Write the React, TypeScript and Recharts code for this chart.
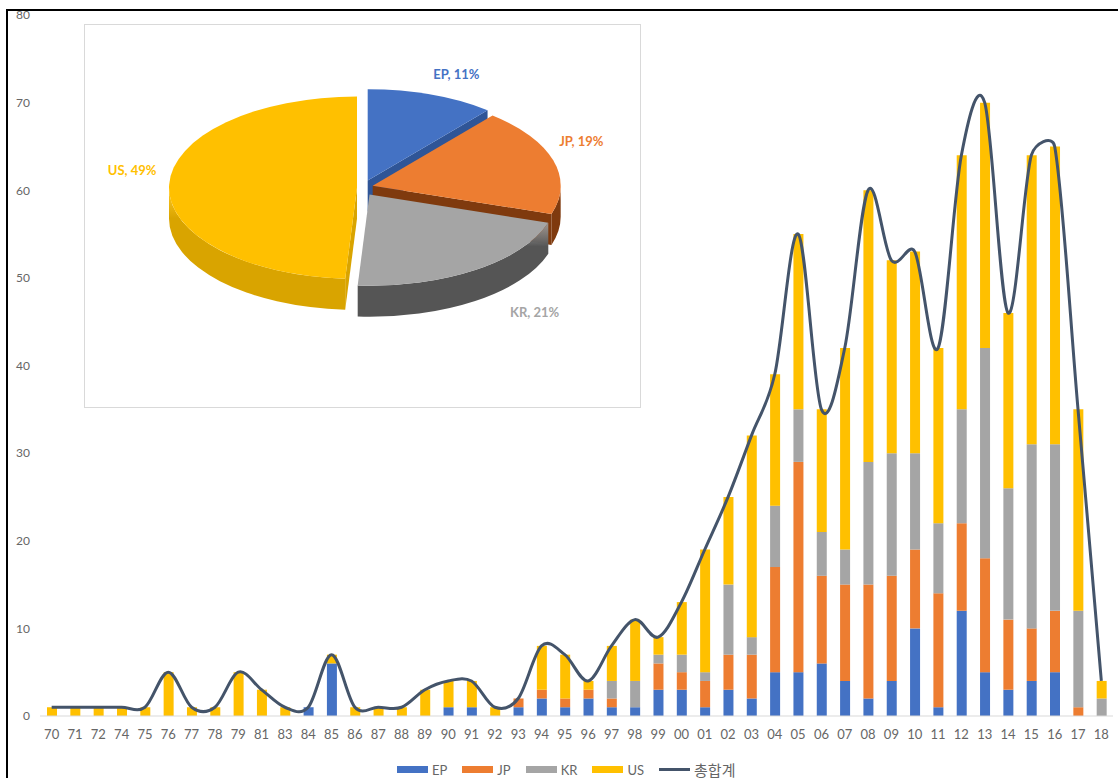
import { ComposedChart, Bar, Line, XAxis, YAxis, PieChart, Pie, Cell } from 'recharts';

// ---- data ----
const years = [
  '70', '71', '72', '74', '75', '76', '77', '78', '79', '81', '83', '84', '85', '86', '87', '88',
  '89', '90', '91', '92', '93', '94', '95', '96', '97', '98', '99', '00', '01', '02', '03', '04',
  '05', '06', '07', '08', '09', '10', '11', '12', '13', '14', '15', '16', '17', '18',
];
const ep = [
  0, 0, 0, 0, 0, 0, 0, 0, 0, 0, 0, 1, 6, 0, 0, 0,
  0, 1, 1, 0, 1, 2, 1, 2, 1, 1, 3, 3, 1, 3, 2, 5,
  5, 6, 4, 2, 4, 10, 1, 12, 5, 3, 4, 5, 0, 0,
];
const jp = [
  0, 0, 0, 0, 0, 0, 0, 0, 0, 0, 0, 0, 0, 0, 0, 0,
  0, 0, 0, 0, 1, 1, 1, 1, 1, 0, 3, 2, 3, 4, 5, 12,
  24, 10, 11, 13, 12, 9, 13, 10, 13, 8, 6, 7, 1, 0,
];
const kr = [
  0, 0, 0, 0, 0, 0, 0, 0, 0, 0, 0, 0, 0, 0, 0, 0,
  0, 0, 0, 0, 0, 0, 0, 0, 2, 3, 1, 2, 1, 8, 2, 7,
  6, 5, 4, 14, 14, 11, 8, 13, 24, 15, 21, 19, 11, 2,
];
const us = [
  1, 1, 1, 1, 1, 5, 1, 1, 5, 3, 1, 0, 1, 1, 1, 1,
  3, 3, 3, 1, 0, 5, 5, 1, 4, 7, 2, 6, 14, 10, 23, 15,
  20, 14, 23, 31, 22, 23, 20, 29, 28, 20, 33, 34, 23, 2,
];
const yTicks = [0, 10, 20, 30, 40, 50, 60, 70, 80];

const pieNames = ['EP', 'JP', 'KR', 'US'];
const pieShares = [11, 19, 21, 49];

// ---- styles ----
const COLORS: Record<string, string> = {
  EP: '#4472C4',
  JP: '#ED7D31',
  KR: '#A5A5A5',
  US: '#FFC000',
};
const WALL: Record<string, string> = {
  EP: '#2F5597',
  JP: '#7F3A0E',
  KR: '#555555',
  US: '#D9A400',
};
const LINE_COLOR = '#44546A';
const TEXT_GRAY = '#666666';
const FONT = "Lato, 'Noto Sans CJK KR', 'Noto Sans', sans-serif";

// nudges for the pie's "best fit" labels
const LABEL_NUDGE: Record<string, [number, number]> = {
  EP: [9, 1],
  JP: [-17, -13],
  KR: [33, -8],
  US: [10, -14],
};

const rows = years.map((year, i) => ({
  year,
  EP: ep[i],
  JP: jp[i],
  KR: kr[i],
  US: us[i],
  total: ep[i] + jp[i] + kr[i] + us[i],
}));

const pieRows = pieNames.map((name, i) => ({ name, value: pieShares[i] }));

// Catmull-Rom style smoothing with handles capped at half the segment,
// which is close to Excel's "smoothed line"
const excelSmooth: any = (context: any) => {
  let xs: number[] = [];
  let ys: number[] = [];
  const cap = (hx: number, hy: number, seg: number) => {
    const len = Math.hypot(hx, hy);
    const max = seg / 2;
    return len > max && len > 0 ? [(hx * max) / len, (hy * max) / len] : [hx, hy];
  };
  return {
    areaStart() {},
    areaEnd() {},
    lineStart() {
      xs = [];
      ys = [];
    },
    point(x: number, y: number) {
      xs.push(+x);
      ys.push(+y);
    },
    lineEnd() {
      const n = xs.length;
      if (n === 0) return;
      context.moveTo(xs[0], ys[0]);
      for (let i = 0; i < n - 1; i++) {
        const p = i > 0 ? i - 1 : i;
        const q = i + 2 < n ? i + 2 : i + 1;
        const seg = Math.hypot(xs[i + 1] - xs[i], ys[i + 1] - ys[i]);
        const [ax, ay] = cap((xs[i + 1] - xs[p]) / 6, (ys[i + 1] - ys[p]) / 6, seg);
        const [bx, by] = cap((xs[q] - xs[i]) / 6, (ys[q] - ys[i]) / 6, seg);
        context.bezierCurveTo(xs[i] + ax, ys[i] + ay, xs[i + 1] - bx, ys[i + 1] - by, xs[i + 1], ys[i + 1]);
      }
    },
  };
};

// ---- 3D-ish exploded pie, drawn from the Pie's own sector angles ----
const RAD = Math.PI / 180;
const FLAT = 0.485;
const DEPTH = 31;
const EXPLODE = 8;

const renderSlice = (props: any) => {
  const { cx, cy, outerRadius, startAngle, endAngle, midAngle, percent, index } = props;
  const name = props.name ?? props.payload?.name ?? pieNames[index];
  const s = Math.max(startAngle, endAngle);
  const e = Math.min(startAngle, endAngle);
  const m = midAngle * RAD;
  const ox = cx + EXPLODE * Math.cos(m);
  const oy = cy - EXPLODE * Math.sin(m);
  const rx = outerRadius;
  const ry = outerRadius * FLAT;
  const pt = (a: number, dy = 0) => [ox + rx * Math.cos(a * RAD), oy - ry * Math.sin(a * RAD) + dy];
  const f = (p: number[]) => `${p[0].toFixed(2)},${p[1].toFixed(2)}`;

  const large = s - e > 180 ? 1 : 0;
  const top = `M${ox},${oy} L${f(pt(s))} A${rx},${ry} 0 ${large} 1 ${f(pt(e))} Z`;

  // front wall
  const a1 = Math.min(s, 0);
  const a2 = Math.max(e, -180);
  let wall = '';
  if (a1 > a2) {
    const lg = a1 - a2 > 180 ? 1 : 0;
    wall = `M${f(pt(a1))} A${rx},${ry} 0 ${lg} 1 ${f(pt(a2))} L${f(pt(a2, DEPTH))} A${rx},${ry} 0 ${lg} 0 ${f(pt(a1, DEPTH))} Z`;
  }
  // radial cut faces facing the viewer
  const faces: string[] = [];
  const face = (a: number) => {
    const p = pt(a);
    const pd = pt(a, DEPTH);
    return `M${ox},${oy} L${f(p)} L${f(pd)} L${ox},${oy + DEPTH} Z`;
  };
  if (Math.cos(e * RAD) > 0.01) faces.push(face(e));
  if (Math.cos(s * RAD) < -0.01) faces.push(face(s));

  const [ndx, ndy] = LABEL_NUDGE[name] || [0, 0];
  const lx = ox + rx * 1.25 * Math.cos(m) + ndx;
  const ly = oy - ry * 1.25 * Math.sin(m) + (Math.sin(m) < 0 ? DEPTH : 0) + ndy;
  const gid = `wall-${name}`;

  return (
    <g key={`slice-${name}`}>
      <defs>
        <linearGradient id={gid} x1="0" y1="0" x2="0" y2="1">
          <stop offset="0%" stopColor={COLORS[name]} stopOpacity={0.85} />
          <stop offset="25%" stopColor={WALL[name]} />
          <stop offset="100%" stopColor={WALL[name]} />
        </linearGradient>
      </defs>
      {faces.map((d, i) => (
        <path key={i} d={d} fill={WALL[name]} />
      ))}
      {wall && <path d={wall} fill={`url(#${gid})`} />}
      <path d={top} fill={COLORS[name]} />
      <text
        x={lx}
        y={ly}
        textAnchor="middle"
        dominantBaseline="central"
        fill={COLORS[name]}
        fontSize={13}
        fontWeight="bold"
        fontFamily={FONT}
      >
        {`${name}, ${Math.round(percent * 100)}%`}
      </text>
    </g>
  );
};

const LegendBox = ({ color, label, line }: { color: string; label: string; line?: boolean }) => (
  <div style={{ display: 'flex', alignItems: 'center', marginRight: 15 }}>
    <div style={{ width: 31, height: line ? 3 : 7, background: color, marginRight: 4 }} />
    <span style={{ fontSize: line ? 15 : 13, color: TEXT_GRAY }}>{label}</span>
  </div>
);

export default function App() {
  return (
    <div
      style={{
        position: 'absolute',
        left: 0,
        top: 0,
        width: 1118,
        height: 778,
        overflow: 'hidden',
        background: '#fff',
        fontFamily: FONT,
      }}
    >
      {/* frame */}
      <div
        style={{
          position: 'absolute',
          left: 6,
          top: 9,
          width: 1112,
          height: 769,
          borderLeft: '2px solid #000',
          borderTop: '2px solid #000',
          boxSizing: 'border-box',
        }}
      />

      {/* main stacked bars + total line */}
      <div style={{ position: 'absolute', left: 0, top: 0 }}>
        <ComposedChart
          width={1118}
          height={778}
          data={rows}
          margin={{ top: 15, right: 5, left: 0, bottom: 32 }}
        >
          <XAxis
            dataKey="year"
            interval={0}
            tickLine={false}
            axisLine={{ stroke: '#d9d9d9' }}
            height={30}
            tickMargin={8}
            tick={{ fontSize: 13, fill: TEXT_GRAY, fontFamily: FONT }}
          />
          <YAxis
            domain={[0, 80]}
            ticks={yTicks}
            axisLine={false}
            tickLine={false}
            width={40}
            tickMargin={4}
            tick={{ fontSize: 12, fill: TEXT_GRAY, fontFamily: FONT }}
          />
          <Bar dataKey="EP" stackId="s" fill={COLORS.EP} barSize={10} isAnimationActive={false} />
          <Bar dataKey="JP" stackId="s" fill={COLORS.JP} barSize={10} isAnimationActive={false} />
          <Bar dataKey="KR" stackId="s" fill={COLORS.KR} barSize={10} isAnimationActive={false} />
          <Bar dataKey="US" stackId="s" fill={COLORS.US} barSize={10} isAnimationActive={false} />
          <Line
            dataKey="total"
            name="총합계"
            type={excelSmooth}
            stroke={LINE_COLOR}
            strokeWidth={3}
            dot={false}
            activeDot={false}
            isAnimationActive={false}
          />
        </ComposedChart>
      </div>

      {/* legend */}
      <div
        style={{
          position: 'absolute',
          left: 397,
          top: 761,
          height: 17,
          display: 'flex',
          alignItems: 'center',
        }}
      >
        <LegendBox color={COLORS.EP} label="EP" />
        <LegendBox color={COLORS.JP} label="JP" />
        <LegendBox color={COLORS.KR} label="KR" />
        <LegendBox color={COLORS.US} label="US" />
        <LegendBox color={LINE_COLOR} label="총합계" line />
      </div>

      {/* inset pie */}
      <div
        style={{
          position: 'absolute',
          left: 84,
          top: 24,
          width: 557,
          height: 384,
          border: '1px solid #d9d9d9',
          boxSizing: 'border-box',
          background: '#fff',
        }}
      >
        <PieChart width={555} height={382} margin={{ top: 0, right: 0, bottom: 0, left: 0 }}>
          <Pie
            data={pieRows}
            dataKey="value"
            nameKey="name"
            cx={280}
            cy={163}
            outerRadius={188}
            startAngle={90}
            endAngle={-270}
            stroke="none"
            labelLine={false}
            label={renderSlice}
            isAnimationActive={false}
          >
            {pieRows.map((r) => (
              <Cell key={r.name} fill="transparent" />
            ))}
          </Pie>
        </PieChart>
      </div>
    </div>
  );
}
